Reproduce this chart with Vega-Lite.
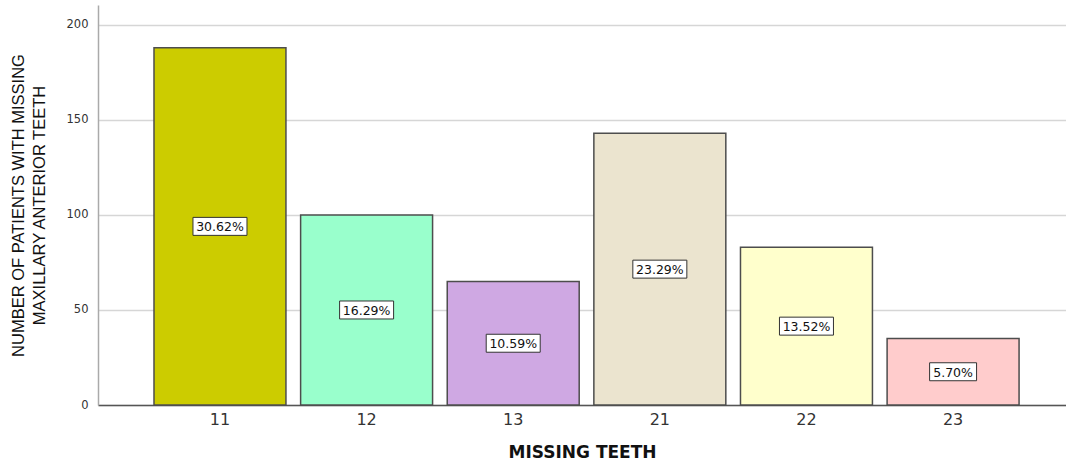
{
  "$schema": "https://vega.github.io/schema/vega-lite/v6.json",
  "autosize": {"type": "none"},
  "width": 968,
  "height": 400,
  "padding": {"left": 98, "top": 5, "right": 0, "bottom": 59},
  "background": "white",
  "config": {
    "view": {"stroke": null},
    "font": "Liberation Sans"
  },
  "data": {
    "values": [
      {"tooth": "11", "count": 188},
      {"tooth": "12", "count": 100},
      {"tooth": "13", "count": 65},
      {"tooth": "21", "count": 143},
      {"tooth": "22", "count": 83},
      {"tooth": "23", "count": 35}
    ]
  },
  "transform": [
    {"joinaggregate": [{"op": "sum", "field": "count", "as": "total"}]},
    {"calculate": "datum.count / datum.total", "as": "share"},
    {"calculate": "format(datum.share, '.2%')", "as": "label"},
    {"calculate": "datum.count / 2", "as": "mid"}
  ],
  "encoding": {
    "x": {
      "field": "tooth",
      "type": "nominal",
      "sort": null,
      "scale": {"paddingInner": 0.1, "paddingOuter": 0.351, "align": 0.544},
      "axis": {
        "title": "MISSING TEETH",
        "titleFont": "DejaVu Sans",
        "titleFontSize": 17,
        "titleFontWeight": "bold",
        "titleColor": "#111111",
        "titleBaseline": "middle",
        "titleY": 47,
        "labelAngle": 0,
        "labelFont": "DejaVu Sans",
        "labelFontSize": 16,
        "labelColor": "#333333",
        "labelPadding": 6,
        "ticks": false,
        "domainColor": "#555555",
        "domainWidth": 1.5
      }
    }
  },
  "layer": [
    {
      "mark": {"type": "bar", "stroke": "#4d4d4d", "strokeWidth": 1.5},
      "encoding": {
        "y": {
          "field": "count",
          "type": "quantitative",
          "scale": {"domain": [0, 210.5], "nice": false},
          "axis": {
            "title": ["NUMBER OF PATIENTS WITH MISSING", "MAXILLARY ANTERIOR TEETH"],
            "titleFont": "Liberation Sans",
            "titleFontSize": 16.5,
            "titleFontWeight": "normal",
            "titleColor": "#111111",
            "titleLineHeight": 21.5,
            "titleBaseline": "middle",
            "titleX": -80,
            "titleY": 200,
            "values": [0, 50, 100, 150, 200],
            "labelFont": "DejaVu Sans",
            "labelFontSize": 11.5,
            "labelColor": "#333333",
            "labelPadding": 10,
            "ticks": false,
            "domainColor": "#aaaaaa",
            "domainWidth": 1.5,
            "grid": true,
            "gridColor": "#d6d6d6",
            "gridWidth": 1.5
          }
        },
        "color": {
          "field": "tooth",
          "type": "nominal",
          "sort": null,
          "legend": null,
          "scale": {
            "domain": ["11", "12", "13", "21", "22", "23"],
            "range": ["#cccc00", "#99ffcc", "#cfa8e3", "#ebe4cf", "#ffffcc", "#ffcccc"]
          }
        }
      }
    },
    {
      "transform": [{"filter": "length(datum.label) > 5"}],
      "mark": {
        "type": "point",
        "shape": "M-1,-0.333H1V0.333H-1Z",
        "size": 2916,
        "filled": true,
        "fill": "white",
        "stroke": "#333333",
        "strokeWidth": 1,
        "opacity": 1
      },
      "encoding": {"y": {"field": "mid", "type": "quantitative"}}
    },
    {
      "transform": [{"filter": "length(datum.label) <= 5"}],
      "mark": {
        "type": "point",
        "shape": "M-0.87,-0.333H0.87V0.333H-0.87Z",
        "size": 2916,
        "filled": true,
        "fill": "white",
        "stroke": "#333333",
        "strokeWidth": 1,
        "opacity": 1
      },
      "encoding": {"y": {"field": "mid", "type": "quantitative"}}
    },
    {
      "mark": {"type": "text", "font": "DejaVu Sans", "fontSize": 12.5, "color": "#111111", "baseline": "middle", "dy": 1},
      "encoding": {
        "y": {"field": "mid", "type": "quantitative"},
        "text": {"field": "label"}
      }
    }
  ]
}
